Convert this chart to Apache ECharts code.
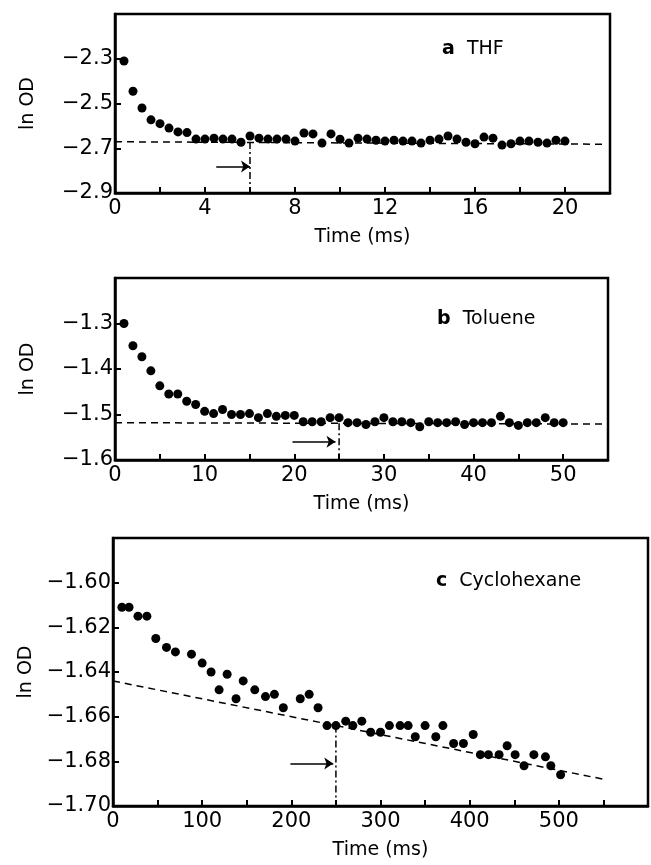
<!DOCTYPE html>
<html>
<head>
<meta charset="utf-8">
<script src="https://cdn.jsdelivr.net/npm/echarts@6/dist/echarts.min.js"></script>
<style>
  html, body { margin: 0; padding: 0; background: #fff; }
  #chart { width: 651px; height: 865px; }
</style>
</head>
<body>
<div id="chart"></div>
<script>
// --- data ---
// a THF
const timeA = [0.4, 0.8, 1.2, 1.6, 2.0, 2.4, 2.8, 3.2, 3.6, 4.0, 4.4, 4.8, 5.2, 5.6, 6.0, 6.4, 6.8, 7.2, 7.6, 8.0,
    8.4, 8.8, 9.2, 9.6, 10.0, 10.4, 10.8, 11.2, 11.6, 12.0, 12.4, 12.8, 13.2, 13.6, 14.0, 14.4, 14.8, 15.2, 15.6, 16.0,
    16.4, 16.8, 17.2, 17.6, 18.0, 18.4, 18.8, 19.2, 19.6, 20.0];
const lnOdA = [-2.31, -2.445, -2.52, -2.573, -2.59, -2.61, -2.627, -2.63, -2.659, -2.659, -2.655, -2.659, -2.659, -2.673, -2.645, -2.655, -2.659, -2.659, -2.659, -2.668,
    -2.632, -2.636, -2.677, -2.636, -2.66, -2.677, -2.655, -2.659, -2.664, -2.668, -2.664, -2.668, -2.668, -2.677, -2.664, -2.659, -2.645, -2.659, -2.673, -2.68,
    -2.65, -2.655, -2.686, -2.68, -2.668, -2.668, -2.673, -2.677, -2.664, -2.668];
const fitA = [[0, -2.671], [21.7, -2.682]];
const dropA = [[6, -2.672], [6, -2.9]];
const arrowA = [[4.5, -2.782], [6, -2.782]];

// b Toluene
const timeB = [1, 2, 3, 4, 5, 6, 7, 8, 9, 10, 11, 12, 13, 14, 15, 16, 17, 18, 19, 20, 21, 22, 23, 24, 25,
    26, 27, 28, 29, 30, 31, 32, 33, 34, 35, 36, 37, 38, 39, 40, 41, 42, 43, 44, 45, 46, 47, 48, 49, 50];
const lnOdB = [-1.30, -1.349, -1.373, -1.404, -1.437, -1.455, -1.455, -1.471, -1.478, -1.493, -1.498, -1.489, -1.50, -1.50, -1.498, -1.507, -1.498, -1.504, -1.502, -1.502, -1.516, -1.516, -1.516, -1.507, -1.507,
    -1.518, -1.518, -1.522, -1.516, -1.507, -1.516, -1.516, -1.518, -1.527, -1.516, -1.518, -1.518, -1.516, -1.522, -1.518, -1.518, -1.518, -1.504, -1.518, -1.524, -1.518, -1.518, -1.507, -1.518, -1.518];
const fitB = [[0, -1.518], [55, -1.521]];
const dropB = [[25, -1.519], [25, -1.6]];
const arrowB = [[19.8, -1.56], [24.6, -1.56]];

// c Cyclohexane
const timeC = [10, 18, 28, 38, 48, 60, 70, 88, 100, 110, 119, 128, 138, 146, 159, 171, 181, 191, 210, 220, 230, 240, 250, 261,
    269, 279, 289, 300, 310, 322, 331, 339, 350, 362, 370, 382, 393, 404, 412, 421, 433, 442, 451, 461, 472, 485, 491, 502];
const lnOdC = [-1.611, -1.611, -1.615, -1.615, -1.625, -1.629, -1.631, -1.632, -1.636, -1.640, -1.648, -1.641, -1.652, -1.644, -1.648, -1.651, -1.650, -1.656, -1.652, -1.650, -1.656, -1.664, -1.664, -1.662,
    -1.664, -1.662, -1.667, -1.667, -1.664, -1.664, -1.664, -1.669, -1.664, -1.669, -1.664, -1.672, -1.672, -1.668, -1.677, -1.677, -1.677, -1.673, -1.677, -1.682, -1.677, -1.678, -1.682, -1.686];
const fitC = [[0, -1.644], [550, -1.688]];
const dropC = [[250, -1.664], [250, -1.70]];
const arrowC = [[199, -1.681], [247, -1.681]];

const FONT = 'DejaVu Sans';
const minus = s => s.replace('-', '\u2212');

function makeX(idx, max, interval, labelStep) {
    return {
        type: 'value', gridIndex: idx, min: 0, max: max, interval: interval,
        name: 'Time (ms)', nameLocation: 'middle', nameGap: 35,
        nameTextStyle: { color: '#000', fontFamily: FONT, fontSize: 19 },
        axisLine: { show: true, lineStyle: { color: '#000', width: 2.5 } },
        axisTick: { show: true, inside: true, length: 6, lineStyle: { color: '#000', width: 2 } },
        splitLine: { show: false },
        axisLabel: {
            color: '#000', fontFamily: FONT, fontSize: 21, margin: 5,
            formatter: v => (Math.abs(v % labelStep) < 1e-6 && v < max) ? String(v) : ''
        }
    };
}

function makeY(idx, min, max, interval, digits) {
    return {
        type: 'value', gridIndex: idx, min: min, max: max, interval: interval,
        name: 'ln OD', nameLocation: 'middle', nameGap: 77, nameRotate: 90,
        nameTextStyle: { color: '#000', fontFamily: FONT, fontSize: 19 },
        axisLine: { show: true, lineStyle: { color: '#000', width: 2.5 } },
        axisTick: { show: true, inside: true, length: 6, lineStyle: { color: '#000', width: 2 } },
        splitLine: { show: false },
        axisLabel: {
            color: '#000', fontFamily: FONT, fontSize: 21, margin: 2,
            formatter: v => (v < max - interval / 2) ? minus(v.toFixed(digits)) : ''
        }
    };
}

function panelSeries(idx, xs, ys, fit, drop, arrow) {
    return [
        {
            type: 'scatter', xAxisIndex: idx, yAxisIndex: idx,
            data: xs.map((x, i) => [x, ys[i]]),
            symbol: 'circle', symbolSize: 9,
            itemStyle: { color: '#000', opacity: 1 }, z: 3
        },
        {
            type: 'line', xAxisIndex: idx, yAxisIndex: idx, data: fit,
            showSymbol: false, symbol: 'none',
            lineStyle: { color: '#000', width: 1.5, type: [7, 5] }
        },
        {
            type: 'line', xAxisIndex: idx, yAxisIndex: idx, data: drop,
            showSymbol: false, symbol: 'none',
            lineStyle: { color: '#000', width: 1.5, type: [7, 3, 2, 3] },
            markLine: {
                silent: true, symbol: ['none', 'arrow'], symbolSize: 9,
                label: { show: false },
                lineStyle: { color: '#000', width: 1.5, type: 'solid' },
                data: [[{ coord: arrow[0] }, { coord: arrow[1] }]]
            }
        }
    ];
}

const chart = echarts.init(document.getElementById('chart'));
chart.setOption({
    animation: false,
    backgroundColor: '#fff',
    title: [
        { text: '{b|a}  THF', left: 437, top: 35 },
        { text: '{b|b}  Toluene', left: 432, top: 305 },
        { text: '{b|c}  Cyclohexane', left: 431, top: 567 }
    ].map(t => Object.assign(t, {
        textStyle: {
            color: '#000', fontFamily: FONT, fontSize: 19, fontWeight: 'normal',
            rich: { b: { fontFamily: FONT, fontSize: 19, fontWeight: 'bold', color: '#000' } }
        }
    })),
    grid: [
        { left: 115, top: 14, width: 495, height: 179, show: true, borderColor: '#000', borderWidth: 2.5 },
        { left: 115, top: 278, width: 493, height: 182, show: true, borderColor: '#000', borderWidth: 2.5 },
        { left: 113, top: 538, width: 535, height: 268, show: true, borderColor: '#000', borderWidth: 2.5 }
    ],
    xAxis: [
        makeX(0, 22, 2, 4),
        makeX(1, 55, 5, 10),
        makeX(2, 600, 50, 100)
    ],
    yAxis: [
        makeY(0, -2.9, -2.1, 0.2, 1),
        makeY(1, -1.6, -1.2, 0.1, 1),
        makeY(2, -1.70, -1.58, 0.02, 2)
    ],
    series: [].concat(
        panelSeries(0, timeA, lnOdA, fitA, dropA, arrowA),
        panelSeries(1, timeB, lnOdB, fitB, dropB, arrowB),
        panelSeries(2, timeC, lnOdC, fitC, dropC, arrowC)
    )
});
</script>
</body>
</html>
